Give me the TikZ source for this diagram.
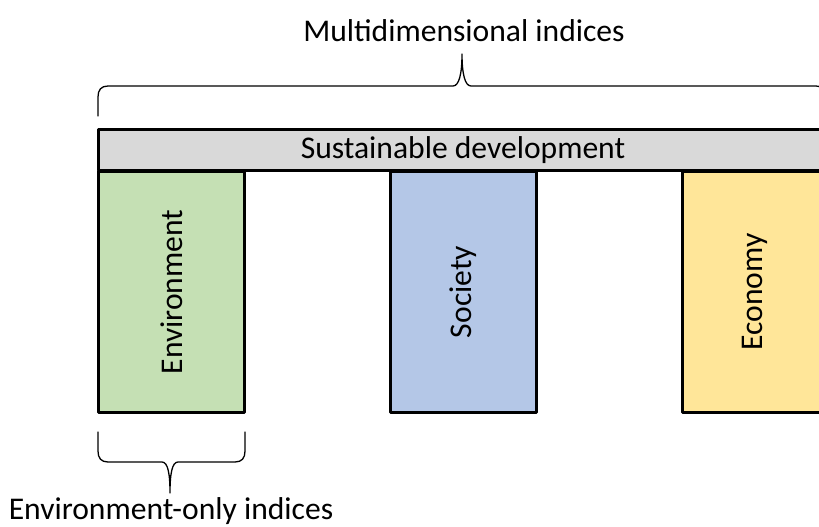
\documentclass[tikz,border=0pt]{standalone}
\usepackage{fontspec}
\setmainfont{Carlito}
\definecolor{bargray}{HTML}{D9D9D9}
\definecolor{envgreen}{HTML}{C5E0B4}
\definecolor{socblue}{HTML}{B4C7E7}
\definecolor{ecoyellow}{HTML}{FFE699}
\begin{document}
\begin{tikzpicture}[x=1pt,y=-1pt,line cap=round,line join=round,
  font=\fontsize{31.6}{38}\selectfont,
  pillar/.style={draw,line width=3pt,inner sep=0pt,minimum width=146pt,minimum height=241pt,anchor=north},
  bracket/.style={line width=1.3pt}]
  \useasboundingbox (0,0) rectangle (819,527);
  \clip (0,0) rectangle (819,527);
  \node[draw,line width=3pt,fill=bargray,inner sep=0pt,minimum width=730pt,minimum height=41pt] (sd) at (463,150) {Sustainable development};
  \node[pillar,fill=envgreen] (env) at (171.5,170) {\rotatebox{90}{Environment}};
  \node[pillar,fill=socblue] (soc) at (463.5,170) {\rotatebox{90}{Society}};
  \node[pillar,fill=ecoyellow] (eco) at (755,170) {\rotatebox{90}{Economy}};
  \draw[bracket] (98,116) -- (98,97) .. controls (98,90) and (101,86) .. (108,86) -- (453,86)
    .. controls (459,86) and (462,74) .. (462,54) .. controls (462,74) and (465,86) .. (471,86)
    -- (816,86) .. controls (823,86) and (826,90) .. (826,97) -- (826,116);
  \draw[bracket] (98,432) -- (98,451) .. controls (98,458) and (101,462) .. (108,462) -- (162,462)
    .. controls (168,462) and (170,474) .. (170,493) .. controls (170,474) and (172,462) .. (178,462)
    -- (235,462) .. controls (242,462) and (245,458) .. (245,451) -- (245,432);
  \node (multi) at (464,31) {Multidimensional indices};
  \node (envonly) at (171,511) {Environment-only indices};
\end{tikzpicture}
\end{document}
